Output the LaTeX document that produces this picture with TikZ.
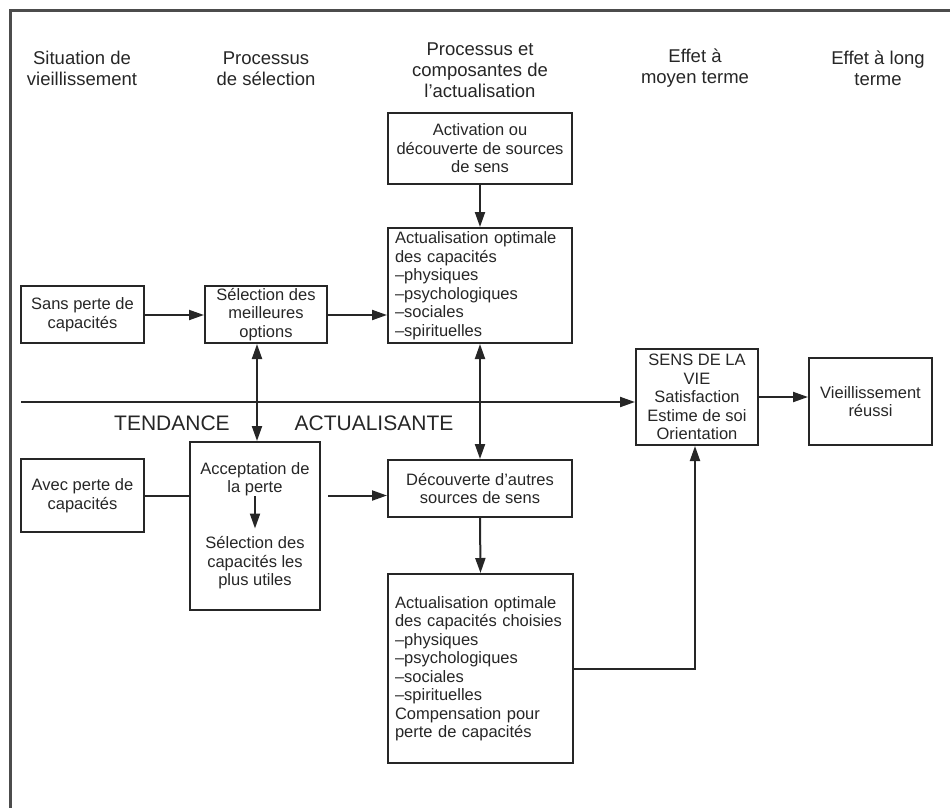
\documentclass[tikz,border=0pt]{standalone}
\usepackage{fontspec}
\setmainfont{Liberation Sans}
\usetikzlibrary{arrows.meta,calc}
\newcommand\diagbody{\fontsize{16.5}{18.5}\selectfont}
\newcommand\diaghead{\fontsize{18.5}{21}\selectfont}
\newcommand\diagbig{\fontsize{21}{24}\selectfont}
\begin{document}
\begin{tikzpicture}[x=1pt,y=-1pt,
  every node/.style={text=black!85},
  box/.style={draw=black!85,line width=2pt,inner sep=0pt,align=center,font=\diagbody},
  listbox/.style={box,align=left},
  head/.style={inner sep=0pt,align=center,font=\diaghead},
  plain/.style={inner sep=0pt,align=center,font=\diagbody},
  link/.style={draw=black!85,line width=2pt},
  arr/.style={link,-{Triangle[length=15pt,width=10pt]}},
  darr/.style={link,{Triangle[length=15pt,width=10pt]}-{Triangle[length=15pt,width=10pt]}}]
\useasboundingbox (0,0) rectangle (950,807);

% partial frame
\coordinate (fTR) at (960,10);
\coordinate (fTL) at (10,10);
\coordinate (fBL) at (10,817);
\draw[line width=3pt,draw=black!70] (fTR) -- (fTL) -- (fBL);

% column headings
\node[head] (h1) at (82,68.5) {Situation de\\vieillissement};
\node[head] (h2) at (266,69) {Processus\\de sélection};
\node[head] (h3) at (480,70) {Processus et\\composantes de\\l'actualisation};
\node[head] (h4) at (695,68) {Effet à\\moyen terme};
\node[head] (h5) at (878,68) {Effet à long\\terme};

% boxes
\node[box,minimum width=123pt,minimum height=57pt] (sans) at (82.5,314.5) {Sans perte de\\capacités};
\node[box,minimum width=122pt,minimum height=57pt] (sel) at (266,314.5) {Sélection des\\meilleures\\options};
\node[box,minimum width=184pt,minimum height=71pt] (activ) at (480,148.5) {Activation ou\\découverte de sources\\de sens};
\node[listbox,text width=170pt,minimum width=184pt,minimum height=115pt] (act1) at (480,285.5)
  {Actualisation optimale\\des capacités\\–physiques\\–psychologiques\\–sociales\\–spirituelles};
\node[box,minimum width=123pt,minimum height=73pt] (avec) at (82.5,495.5) {Avec perte de\\capacités};
\node[box,minimum width=130pt,minimum height=168pt] (acc) at (255,526) {};
\node[plain] (acc1) at (255,479) {Acceptation de\\la perte};
\node[plain] (acc2) at (255,563) {Sélection des\\capacités les\\plus utiles};
\node[box,minimum width=184pt,minimum height=57pt] (dec) at (480,488.5) {Découverte d'autres\\sources de sens};
\node[listbox,text width=171pt,minimum width=185pt,minimum height=189pt] (act2) at (480.5,668.5)
  {Actualisation optimale\\des capacités choisies\\–physiques\\–psychologiques\\–sociales\\–spirituelles\\Compensation pour\\perte de capacités};
\node[box,minimum width=122pt,minimum height=96pt] (sens) at (697,397) {SENS DE LA\\VIE\\Satisfaction\\Estime de soi\\Orientation};
\node[box,minimum width=123pt,minimum height=87pt] (vieil) at (870.5,401.5) {Vieillissement\\réussi};

% tendency line and its label
\coordinate (tstart) at (21,402);
\node[inner sep=0pt,font=\diagbig] (tend) at (172,423) {TENDANCE};
\node[inner sep=0pt,font=\diagbig] (actu) at (374,423) {ACTUALISANTE};
\draw[arr] (tstart) -- (tstart -| sens.west);

% connectors
\draw[arr] (sans.east |- 0,315) -- (sel.west |- 0,315);
\draw[arr] (sel.east |- 0,315) -- (act1.west |- 0,315);
\draw[arr] (activ.south) -- (act1.north);
\draw[darr] (act1.south) -- (dec.north);
\draw[darr] ([xshift=-9pt]sel.south) -- ([xshift=-9pt]sel.south |- acc.north);
\draw[link] (avec.east) -- (avec.east -| acc.west);
\coordinate (accout) at ($(acc.east |- avec.east)+(7,0)$);
\draw[arr] (accout) -- (accout -| dec.west);
\draw[arr] (acc1.south) -- ($(acc2.north)+(0,-8)$);
\draw[arr] (dec.south) -- (act2.north);
\draw[arr] (act2.east) -| ([xshift=-2pt]sens.south);
\draw[arr] (sens.east) -- (sens.east -| vieil.west);
\end{tikzpicture}
\end{document}
